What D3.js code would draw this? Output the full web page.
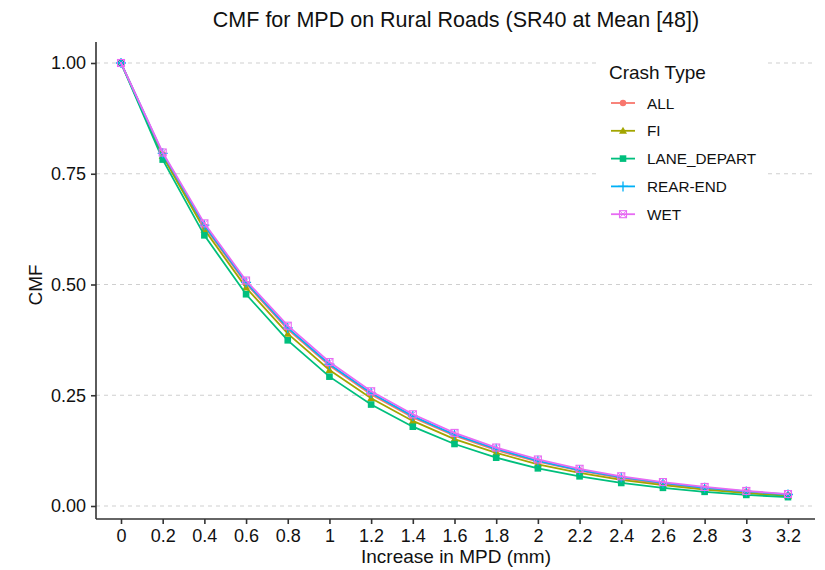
<!DOCTYPE html>
<html>
<head>
<meta charset="utf-8">
<script src="https://cdn.jsdelivr.net/npm/d3@7"></script>
<style>
  body { margin: 0; background: #fff; }
  text { font-family: "Liberation Sans", Arial, sans-serif; }
</style>
</head>
<body>
<div id="vis1"></div>
<script>
// data
let mpd = ["0", "0.2", "0.4", "0.6", "0.8", "1", "1.2", "1.4", "1.6", "1.8", "2", "2.2", "2.4", "2.6", "2.8", "3", "3.2"];
let crashTypes = ["ALL", "FI", "LANE_DEPART", "REAR-END", "WET"];
let cmfAll = [1, 0.794, 0.631, 0.502, 0.399, 0.317, 0.252, 0.200, 0.159, 0.126, 0.100, 0.080, 0.063, 0.050, 0.040, 0.032, 0.025];
let cmfFI = [1, 0.790, 0.624, 0.493, 0.389, 0.307, 0.243, 0.192, 0.151, 0.120, 0.094, 0.075, 0.059, 0.047, 0.037, 0.029, 0.023];
let cmfLane = [1, 0.782, 0.611, 0.478, 0.374, 0.292, 0.229, 0.179, 0.140, 0.109, 0.085, 0.067, 0.052, 0.041, 0.032, 0.025, 0.020];
let cmfRear = [1, 0.796, 0.634, 0.505, 0.402, 0.320, 0.255, 0.203, 0.161, 0.129, 0.102, 0.081, 0.065, 0.052, 0.041, 0.033, 0.026];
let cmfWet = [1, 0.798, 0.638, 0.509, 0.407, 0.325, 0.259, 0.207, 0.165, 0.132, 0.105, 0.084, 0.067, 0.054, 0.043, 0.034, 0.027];
let yTicks = [0, 0.25, 0.5, 0.75, 1];

let colors = ["#F8766D", "#A3A500", "#00BF7D", "#00B0F6", "#E76BF3"];
let seriesValues = [cmfAll, cmfFI, cmfLane, cmfRear, cmfWet];
let series = crashTypes.map((name, i) => ({
  name: name,
  color: colors[i],
  values: seriesValues[i].map((v, j) => ({ x: mpd[j], y: v }))
}));

let W = 825, H = 570;
let margin = { top: 42, left: 96, right: 10, bottom: 51 };

let svg = d3.select('#vis1')
  .append('svg')
  .attr('width', W)
  .attr('height', H)
  .style('background-color', 'white');

let x = d3.scalePoint().domain(mpd).range([121, 788]);
let y = d3.scaleLinear().domain([0, 1]).range([506, 63]);

// grid
svg.append('g')
  .selectAll('line')
  .data(yTicks)
  .join('line')
  .attr('x1', margin.left)
  .attr('x2', W - margin.right)
  .attr('y1', d => y(d))
  .attr('y2', d => y(d))
  .attr('stroke', '#cfcfcf')
  .attr('stroke-width', 1)
  .attr('stroke-dasharray', '4,4');

// axes
let xAxis = svg.append('g')
  .attr('transform', `translate(0, ${H - margin.bottom})`)
  .call(d3.axisBottom(x).tickSize(5).tickPadding(5));
xAxis.select('.domain').attr('d', `M${margin.left},0H${W - margin.right}`);

let yAxis = svg.append('g')
  .attr('transform', `translate(${margin.left}, 0)`)
  .call(d3.axisLeft(y).tickValues(yTicks).tickFormat(d3.format('.2f')).tickSize(5).tickPadding(5));
yAxis.select('.domain').attr('d', `M0,${margin.top}V${H - margin.bottom}`);

[xAxis, yAxis].forEach(a => {
  a.select('.domain').attr('stroke', '#333').attr('stroke-width', 1.6);
  a.selectAll('.tick line').attr('stroke', '#333').attr('stroke-width', 1.6);
  a.selectAll('.tick text').attr('fill', '#111').style('font-size', '18px')
    .style('font-family', '"Liberation Sans", Arial, sans-serif');
});

// shapes
function drawShape(g, kind, color) {
  if (kind === 0) {
    g.append('circle').attr('r', 3.2).attr('fill', color);
  } else if (kind === 1) {
    g.append('path').attr('d', 'M0,-4L4,3L-4,3Z').attr('fill', color);
  } else if (kind === 2) {
    g.append('rect').attr('x', -3.3).attr('y', -3.3).attr('width', 6.6).attr('height', 6.6).attr('fill', color);
  } else if (kind === 3) {
    g.append('path').attr('d', 'M-5,0H5M0,-5V5').attr('stroke', color).attr('stroke-width', 1.3).attr('fill', 'none');
  } else {
    g.append('rect').attr('x', -3.5).attr('y', -3.5).attr('width', 7).attr('height', 7)
      .attr('fill', 'none').attr('stroke', color).attr('stroke-width', 1.1);
    g.append('path').attr('d', 'M-3.5,-3.5L3.5,3.5M3.5,-3.5L-3.5,3.5')
      .attr('stroke', color).attr('stroke-width', 1).attr('fill', 'none');
  }
}

let line = d3.line().x(d => x(d.x)).y(d => y(d.y));

series.forEach((s, i) => {
  svg.append('path')
    .datum(s.values)
    .attr('d', line)
    .attr('fill', 'none')
    .attr('stroke', s.color)
    .attr('stroke-width', 1.8);
  svg.append('g')
    .selectAll('g')
    .data(s.values)
    .join('g')
    .attr('transform', d => `translate(${x(d.x)}, ${y(d.y)})`)
    .each(function () { drawShape(d3.select(this), i, s.color); });
});

// legend
let legend = svg.append('g').attr('transform', 'translate(596, 52)');
legend.append('rect').attr('width', 172).attr('height', 182).attr('fill', 'white');
legend.append('text').attr('x', 13).attr('y', 27).text('Crash Type')
  .style('font-size', '19px').attr('fill', '#111');
series.forEach((s, i) => {
  let row = legend.append('g').attr('transform', `translate(0, ${51 + i * 27.8})`);
  row.append('line').attr('x1', 15).attr('x2', 39).attr('stroke', s.color).attr('stroke-width', 1.8);
  drawShape(row.append('g').attr('transform', 'translate(27, 0)'), i, s.color);
  row.append('text').attr('x', 51).attr('y', 5.5).text(s.name)
    .style('font-size', '15.3px').attr('fill', '#111');
});

// titles
svg.append('text')
  .attr('x', 456).attr('y', 27)
  .attr('text-anchor', 'middle')
  .style('font-size', '21.5px')
  .attr('fill', '#111')
  .text('CMF for MPD on Rural Roads (SR40 at Mean [48])');

svg.append('text')
  .attr('x', 456).attr('y', 563)
  .attr('text-anchor', 'middle')
  .style('font-size', '19px')
  .attr('fill', '#111')
  .text('Increase in MPD (mm)');

svg.append('text')
  .attr('transform', 'translate(42, 285) rotate(-90)')
  .attr('text-anchor', 'middle')
  .style('font-size', '19px')
  .attr('fill', '#111')
  .text('CMF');
</script>
</body>
</html>
